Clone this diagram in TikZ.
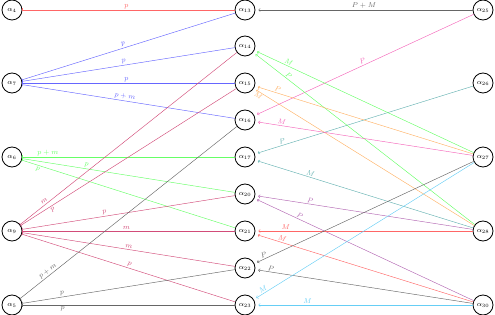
\documentclass[tikz,border=0pt]{standalone}
\usetikzlibrary{arrows.meta}
\begin{document}
\begin{tikzpicture}[x=1pt,y=-1pt,
  st/.style={circle, draw, line width=0.8pt, minimum size=20pt, inner sep=0pt, font=\scriptsize},
  le/.style={{Bar[width=3pt]}-, line width=0.45pt},
  re/.style={-{To[length=2pt,width=3.5pt]}, shorten >=3pt, line width=0.45pt},
  lab/.style={sloped, font=\scriptsize, inner sep=1.2pt}]
\useasboundingbox (0,0) rectangle (495,315);
% left column
\node[st] (a4) at (12,10) {$\alpha_{4}$};
\node[st] (a7) at (12,83) {$\alpha_{7}$};
\node[st] (a6) at (12,157) {$\alpha_{6}$};
\node[st] (a9) at (12,231) {$\alpha_{9}$};
\node[st] (a5) at (12,305) {$\alpha_{5}$};
% middle column
\node[st] (a13) at (245,10) {$\alpha_{13}$};
\node[st] (a14) at (245,46) {$\alpha_{14}$};
\node[st] (a15) at (245,83) {$\alpha_{15}$};
\node[st] (a16) at (245,120) {$\alpha_{16}$};
\node[st] (a17) at (245,157) {$\alpha_{17}$};
\node[st] (a20) at (245,194) {$\alpha_{20}$};
\node[st] (a21) at (245,231) {$\alpha_{21}$};
\node[st] (a22) at (245,268) {$\alpha_{22}$};
\node[st] (a23) at (245,305) {$\alpha_{23}$};
% right column
\node[st] (a25) at (483,10) {$\alpha_{25}$};
\node[st] (a26) at (483,83) {$\alpha_{26}$};
\node[st] (a27) at (483,157) {$\alpha_{27}$};
\node[st] (a28) at (483,231) {$\alpha_{28}$};
\node[st] (a30) at (483,305) {$\alpha_{30}$};
% left edges
\draw[le, red!60] (a4) -- node[lab, above, pos=0.49] {$p$} (a13);
\draw[le, blue!60] (a7) -- node[lab, above, pos=0.48] {$p$} (a13);
\draw[le, blue!60] (a7) -- node[lab, above, pos=0.48] {$p$} (a14);
\draw[le, blue!60] (a7) -- node[lab, above, pos=0.49] {$p$} (a15);
\draw[le, blue!60] (a7) -- node[lab, above, pos=0.48] {$p+m$} (a16);
\draw[le, green!60] (a6) -- node[lab, above, pos=0.12] {$p+m$} (a17);
\draw[le, green!60] (a6) -- node[lab, above, pos=0.30] {$p$} (a20);
\draw[le, green!60] (a6) -- node[lab, below, pos=0.08] {$p$} (a21);
\draw[le, purple!70] (a9) -- node[lab, above, pos=0.12] {$m$} (a14);
\draw[le, purple!70] (a9) -- node[lab, below, pos=0.14] {$p$} (a15);
\draw[le, purple!70] (a9) -- node[lab, above, pos=0.39] {$p$} (a20);
\draw[le, purple!70] (a9) -- node[lab, above, pos=0.49] {$m$} (a21);
\draw[le, purple!70] (a9) -- node[lab, above, pos=0.50] {$m$} (a22);
\draw[le, purple!70] (a9) -- node[lab, above, pos=0.50] {$p$} (a23);
\draw[le, black!60] (a5) -- node[lab, above, pos=0.14] {$p+m$} (a16);
\draw[le, black!60] (a5) -- node[lab, above, pos=0.19] {$p$} (a22);
\draw[le, black!60] (a5) -- node[lab, below, pos=0.19] {$p$} (a23);
% right edges
\draw[re, black!60] (a25) -- node[lab, above, pos=0.5] {$P+M$} (a13);
\draw[re, magenta!60] (a25) -- node[lab, above, pos=0.5] {$P$} (a16);
\draw[re, teal!60] (a26) -- node[lab, above, pos=0.87] {$P$} (a17);
\draw[re, green!60] (a27) -- node[lab, above, pos=0.85] {$M$} (a14);
\draw[re, green!60] (a28) -- node[lab, above, pos=0.85] {$P$} (a14);
\draw[re, orange!60] (a27) -- node[lab, above, pos=0.90] {$P$} (a15);
\draw[re, orange!60] (a28) -- node[lab, below, pos=0.97] {$M$} (a15);
\draw[re, magenta!60] (a27) -- node[lab, above, pos=0.88] {$M$} (a16);
\draw[re, teal!60] (a28) -- node[lab, above, pos=0.75] {$M$} (a17);
\draw[re, violet!60] (a28) -- node[lab, above, pos=0.75] {$P$} (a20);
\draw[re, violet!60] (a30) -- node[lab, above, pos=0.80] {$P$} (a20);
\draw[re, red!60] (a28) -- node[lab, above, pos=0.86] {$M$} (a21);
\draw[re, red!60] (a30) -- node[lab, above, pos=0.88] {$M$} (a21);
\draw[re, black!60] (a27) -- node[lab, above, pos=0.95] {$P$} (a22);
\draw[re, black!60] (a30) -- node[lab, above, pos=0.93] {$P$} (a22);
\draw[re, cyan!60] (a27) -- node[lab, above, pos=0.95] {$M$} (a23);
\draw[re, cyan!60] (a30) -- node[lab, above, pos=0.76] {$M$} (a23);
\end{tikzpicture}
\end{document}
